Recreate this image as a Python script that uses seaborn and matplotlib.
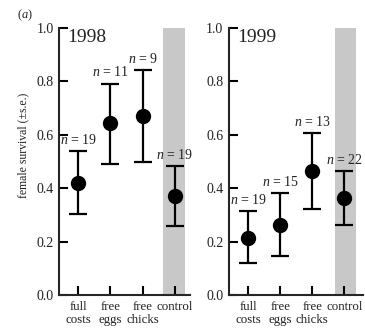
import matplotlib
matplotlib.use("Agg")
import matplotlib.pyplot as plt
import seaborn as sns
import pandas as pd

# treatments shown on the x axis
treatments = ["full\ncosts", "free\neggs", "free\nchicks", "control"]

# 1998 values
surv_1998 = [0.42, 0.645, 0.672, 0.372]
upper_1998 = [0.54, 0.792, 0.842, 0.482]
lower_1998 = [0.302, 0.49, 0.50, 0.26]
n_1998 = [19, 11, 9, 19]

# 1999 values
surv_1999 = [0.213, 0.262, 0.465, 0.362]
upper_1999 = [0.315, 0.382, 0.605, 0.465]
lower_1999 = [0.12, 0.146, 0.322, 0.264]
n_1999 = [19, 15, 13, 22]

sns.set_style("ticks")
plt.rcParams['font.family'] = ['Liberation Serif', 'DejaVu Serif']
plt.rcParams['mathtext.fontset'] = 'custom'
plt.rcParams['mathtext.rm'] = 'Liberation Serif'
plt.rcParams['mathtext.it'] = 'Liberation Serif:italic'
plt.rcParams['axes.linewidth'] = 1.5
plt.rcParams['text.color'] = '#222222'

fig = plt.figure(figsize=(3.65, 3.29), dpi=100)
ax1 = fig.add_axes([0.162, 0.103, 0.358, 0.812])
ax2 = fig.add_axes([0.627, 0.103, 0.368, 0.812])


def panel(ax, year, surv, upper, lower, ns, xlim, band):
    df = pd.DataFrame({"treatment": treatments, "survival": surv})
    # grey band behind the control group
    ax.axvspan(band[0], band[1], ymin=0, ymax=1, color='#c8c8c8', lw=0, zorder=0)
    sns.pointplot(data=df, x="treatment", y="survival", color='black',
                  linestyle='none', errorbar=None, markers='o',
                  markersize=9, ax=ax, zorder=3)
    err_lo = [s - l for s, l in zip(surv, lower)]
    err_hi = [u - s for s, u in zip(surv, upper)]
    ax.errorbar(range(len(surv)), surv, yerr=[err_lo, err_hi], fmt='none',
                ecolor='black', elinewidth=1.6, capsize=6.5, capthick=1.6, zorder=2)
    for i, (u, n) in enumerate(zip(upper, ns)):
        ax.annotate(r'$n$ = %d' % n, (i, u), xytext=(0, 3), textcoords='offset points',
                    ha='center', va='bottom', fontsize=10)
    ax.text(0.06, 0.995, year, transform=ax.transAxes, ha='left', va='top', fontsize=14)
    ax.set_xlim(xlim)
    ax.set_ylim(0, 1.0)
    ax.set_yticks([0.0, 0.2, 0.4, 0.6, 0.8, 1.0])
    ax.set_yticklabels(["0.0", "0.2", "0.4", "0.6", "0.8", "1.0"])
    ax.set_xlabel("")
    ax.set_ylabel("")
    ax.tick_params(axis='both', direction='in', length=6.5, width=1.5, labelsize=10,
                   pad=4, colors='black', labelcolor='#222222')
    ax.tick_params(axis='x', pad=4, labelsize=9.3)
    for lab in ax.get_xticklabels():
        lab.set_linespacing(1.15)
    sns.despine(ax=ax)


panel(ax1, "1998", surv_1998, upper_1998, lower_1998, n_1998, (-0.59, 3.46), (2.63, 3.32))
panel(ax2, "1999", surv_1999, upper_1999, lower_1999, n_1999, (-0.6, 3.59), (2.72, 3.38))

ax1.set_ylabel("female survival (\u00b1s.e.)", fontsize=8.5, color='#222222')
ax1.yaxis.set_label_coords(-0.225, 0.56)
fig.text(0.068, 0.955, r'($a$)', fontsize=9, ha='center', va='center')

plt.savefig("out.png", dpi=100)
